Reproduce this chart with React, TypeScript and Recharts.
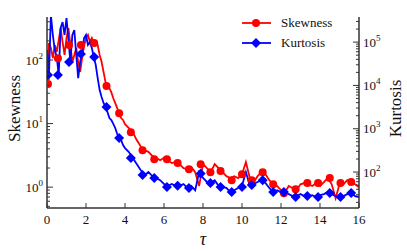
import { ComposedChart, Line, Scatter, XAxis, YAxis, Label } from 'recharts';

// time axis: 0.1 steps up to 4, then 0.2 steps
const tau = [
    0, 0.1, 0.2, 0.3, 0.4, 0.5, 0.6, 0.7, 0.8, 0.9, 1.0, 1.1, 1.2, 1.3, 1.4, 1.5, 1.6, 1.7, 1.8, 1.9,
    2.0, 2.1, 2.2, 2.3, 2.4, 2.5, 2.6, 2.7, 2.8, 2.9, 3.0, 3.1, 3.2, 3.3, 3.4, 3.5, 3.6, 3.7, 3.8, 3.9, 4.0,
    4.2, 4.4, 4.6, 4.8, 5.0, 5.2, 5.4, 5.6, 5.8, 6.0, 6.2, 6.4, 6.6, 6.8, 7.0, 7.2, 7.4, 7.6, 7.8, 8.0,
    8.2, 8.4, 8.6, 8.8, 9.0, 9.2, 9.4, 9.6, 9.8, 10.0, 10.2, 10.4, 10.6, 10.8, 11.0, 11.2, 11.4, 11.6, 11.8, 12.0,
    12.2, 12.4, 12.6, 12.8, 13.0, 13.2, 13.4, 13.6, 13.8, 14.0, 14.2, 14.4, 14.6, 14.8, 15.0, 15.2, 15.4, 15.6, 15.8, 16.0,
];

const skewness = [
    42, 185, 155, 107, 172, 134, 206, 319, 192, 120, 222, 319, 172, 93, 120, 155, 93, 65, 107, 166,
    222, 248, 192, 222, 185, 172, 172, 120, 93, 65, 45, 39, 36, 31, 25, 21, 17.5, 14.6, 12.2, 11.4, 9.8,
    8.5, 7.3, 5.5, 4.4, 3.8, 3.6, 3.1, 2.9, 2.66, 2.9, 2.66, 2.39, 2.48, 2.3, 1.99, 1.92, 2.07, 1.72, 1.04, 2.3,
    1.99, 1.72, 2.3, 1.99, 1.72, 1.49, 1.39, 1.49, 1.39, 1.6, 2.48, 1.39, 1.2, 1.49, 1.72, 1.6, 1.29, 1.11, 1.04, 0.9,
    0.83, 1.04, 0.96, 0.9, 1.11, 1.16, 1.11, 1.04, 1.16, 1.04, 1.2, 1.39, 1.11, 0.67, 1.11, 1.11, 1.29, 1.2, 1.11, 1.0,
];

const kurtosis = [
    65700, 17400, 423000, 146000, 65700, 45300, 17400, 212000, 291000, 146000, 360000, 112000, 34700, 146000, 190000, 50400, 14800, 34700, 59100, 124000,
    146000, 85700, 100000, 73100, 45300, 29600, 14800, 7830, 5400, 3930, 3170, 2430, 1770, 1590, 1290, 1040, 755, 610, 548, 420, 358,
    290, 211, 153, 111, 85, 100, 81, 73, 65, 53, 48, 53, 48, 48, 53, 43, 48, 38, 100, 73,
    59, 56, 65, 48, 45, 43, 34.5, 38, 43, 48, 100, 48, 53, 59, 65, 56, 43, 34.5, 38, 34.5,
    32.7, 31, 27.9, 27.9, 31, 27.9, 27.9, 29.4, 26.5, 29.4, 31, 34.5, 31, 27.9, 26.5, 27.9, 31, 32.7, 27.9, 26.5,
];

// marker positions
const markTau = [0.05, 0.56, 1.13, 1.74, 2.42, 3.05, 3.7, 4.3, 4.9, 5.5, 6.15, 6.7, 7.28, 7.88, 8.38, 8.9, 9.47, 10.0, 10.5, 11.06, 11.6, 12.15, 12.75, 13.35, 13.9, 14.5, 15.05, 15.6];
const skewMarks = [42, 107, 172, 172, 185, 39, 14.6, 7.3, 3.8, 2.76, 2.76, 2.39, 1.92, 2.3, 1.72, 1.79, 1.29, 1.6, 1.29, 1.72, 1.11, 0.8, 0.93, 1.16, 1.16, 1.39, 1.16, 1.2];
const kurtMarks = [17400, 17400, 34700, 53100, 45300, 3170, 610, 211, 85, 73, 45, 48, 43, 93, 56, 45, 34.5, 45, 50, 65, 34.5, 34.5, 26.5, 27.9, 26.5, 32.7, 26.5, 32.7];

const xTicks = [0, 2, 4, 6, 8, 10, 12, 14, 16];
const skewDomain = [0.47, 475];
const kurtDomain = [14.8, 380000];

const RED = '#ff0000';
const BLUE = '#0000ff';
const AXIS = '#333';
const FONT = 'Liberation Serif, Times New Roman, serif';

const lineData = tau.map((t, i) => ({ t, s: skewness[i], k: kurtosis[i] }));
const markData = markTau.map((t, i) => ({ t, s: skewMarks[i], k: kurtMarks[i] }));

function logTicks(lo: number, hi: number) {
    const out: number[] = [];
    for (let e = Math.floor(Math.log10(lo)); e <= Math.ceil(Math.log10(hi)); e++) {
        for (let m = 1; m < 10; m++) {
            const v = m * Math.pow(10, e);
            if (v >= lo && v <= hi) out.push(v);
        }
    }
    return out;
}

const isDecade = (v: number) => Math.abs(Math.log10(v) - Math.round(Math.log10(v))) < 1e-9;

function PowLabel({ x, y, v, anchor }: { x: number; y: number; v: number; anchor: 'start' | 'end' }) {
    return (
        <text x={x} y={y} dy="0.35em" textAnchor={anchor} style={{ fontFamily: FONT }} fontSize={13} fill="#111">
            10<tspan dy={-6} fontSize={9}>{Math.round(Math.log10(v))}</tspan>
        </text>
    );
}

function LeftTick(props: any) {
    const { x, y, payload } = props;
    const major = isDecade(payload.value);
    return (
        <g>
            <line x1={x} y1={y} x2={x + (major ? 6 : 3)} y2={y} stroke={AXIS} strokeWidth={1} />
            {major && <PowLabel x={x - 4} y={y} v={payload.value} anchor="end" />}
        </g>
    );
}

function RightTick(props: any) {
    const { x, y, payload } = props;
    const major = isDecade(payload.value);
    return (
        <g>
            <line x1={x} y1={y} x2={x - (major ? 6 : 3)} y2={y} stroke={AXIS} strokeWidth={1} />
            {major && <PowLabel x={x + 4} y={y} v={payload.value} anchor="start" />}
        </g>
    );
}

function BottomTick(props: any) {
    const { x, y, payload } = props;
    return (
        <g>
            <line x1={x} y1={y} x2={x} y2={y - 5} stroke={AXIS} strokeWidth={1} />
            <text x={x} y={y + 11} dy="0.35em" textAnchor="middle" style={{ fontFamily: FONT }} fontSize={13} fill="#111">
                {payload.value}
            </text>
        </g>
    );
}

const RedDot = (p: any) => <circle cx={p.cx} cy={p.cy} r={4} fill={RED} />;
const BlueDiamond = (p: any) => (
    <polygon points={`${p.cx},${p.cy - 5} ${p.cx + 5},${p.cy} ${p.cx},${p.cy + 5} ${p.cx - 5},${p.cy}`} fill={BLUE} />
);

function LegendRow({ color, label, diamond }: { color: string; label: string; diamond?: boolean }) {
    return (
        <div style={{ display: 'flex', alignItems: 'center', height: 20 }}>
            <svg width={32} height={12}>
                <line x1={1} y1={6} x2={30} y2={6} stroke={color} strokeWidth={1.8} />
                {diamond
                    ? <polygon points="15,1 20,6 15,11 10,6" fill={color} />
                    : <circle cx={15} cy={6} r={4} fill={color} />}
            </svg>
            <span style={{ marginLeft: 8, fontFamily: FONT, fontSize: 13, color: '#111' }}>{label}</span>
        </div>
    );
}

export default function App() {
    return (
        <div style={{ position: 'absolute', left: 0, top: 0, width: 407, height: 251, background: '#fff', fontFamily: FONT }}>
            <ComposedChart width={407} height={251} data={lineData} margin={{ top: 17, right: 0, bottom: 13, left: 0 }}>
                <XAxis
                    dataKey="t"
                    type="number"
                    domain={[0, 16]}
                    ticks={xTicks}
                    interval={0}
                    allowDataOverflow
                    height={30}
                    tickSize={0}
                    tickMargin={0}
                    tick={<BottomTick />}
                    axisLine={{ stroke: AXIS, strokeWidth: 1.5 }}
                >
                    <Label
                        content={({ viewBox }: any) => (
                            <text x={viewBox.x + viewBox.width / 2} y={viewBox.y + 31} dy="0.35em" textAnchor="middle"
                                style={{ fontFamily: FONT, fontStyle: 'italic' }} fontSize={18} fill="#111">τ</text>
                        )}
                    />
                </XAxis>
                <XAxis xAxisId="top" orientation="top" type="number" domain={[0, 16]} height={0}
                    tick={false} tickLine={false} axisLine={{ stroke: AXIS, strokeWidth: 1.5 }} />
                <YAxis
                    yAxisId="left"
                    scale="log"
                    type="number"
                    domain={skewDomain}
                    allowDataOverflow
                    ticks={logTicks(skewDomain[0], skewDomain[1])}
                    interval={0}
                    width={47}
                    tickSize={0}
                    tickMargin={0}
                    tick={<LeftTick />}
                    axisLine={{ stroke: AXIS, strokeWidth: 1.5 }}
                >
                    <Label
                        content={({ viewBox }: any) => {
                            const cx = viewBox.x + 14;
                            const cy = viewBox.y + viewBox.height / 2 - 4;
                            return (
                                <text x={cx} y={cy} dy="0.35em" textAnchor="middle" transform={`rotate(-90 ${cx} ${cy})`}
                                    style={{ fontFamily: FONT }} fontSize={17} fill="#111">Skewness</text>
                            );
                        }}
                    />
                </YAxis>
                <YAxis
                    yAxisId="right"
                    orientation="right"
                    scale="log"
                    type="number"
                    domain={kurtDomain}
                    allowDataOverflow
                    ticks={logTicks(kurtDomain[0], kurtDomain[1])}
                    interval={0}
                    width={48}
                    tickSize={0}
                    tickMargin={0}
                    tick={<RightTick />}
                    axisLine={{ stroke: AXIS, strokeWidth: 1.5 }}
                >
                    <Label
                        content={({ viewBox }: any) => {
                            const cx = viewBox.x + 36;
                            const cy = viewBox.y + viewBox.height / 2 - 4;
                            return (
                                <text x={cx} y={cy} dy="0.35em" textAnchor="middle" transform={`rotate(-90 ${cx} ${cy})`}
                                    style={{ fontFamily: FONT }} fontSize={17} fill="#111">Kurtosis</text>
                            );
                        }}
                    />
                </YAxis>
                <Line yAxisId="left" dataKey="s" stroke={RED} strokeWidth={1.8} dot={false} isAnimationActive={false} />
                <Scatter yAxisId="left" data={markData} dataKey="s" shape={RedDot} isAnimationActive={false} />
                <Line yAxisId="right" dataKey="k" stroke={BLUE} strokeWidth={1.8} dot={false} isAnimationActive={false} />
                <Scatter yAxisId="right" data={markData} dataKey="k" shape={BlueDiamond} isAnimationActive={false} />
            </ComposedChart>
            <div style={{ position: 'absolute', left: 241, top: 13 }}>
                <LegendRow color={RED} label="Skewness" />
                <LegendRow color={BLUE} label="Kurtosis" diamond />
            </div>
        </div>
    );
}
